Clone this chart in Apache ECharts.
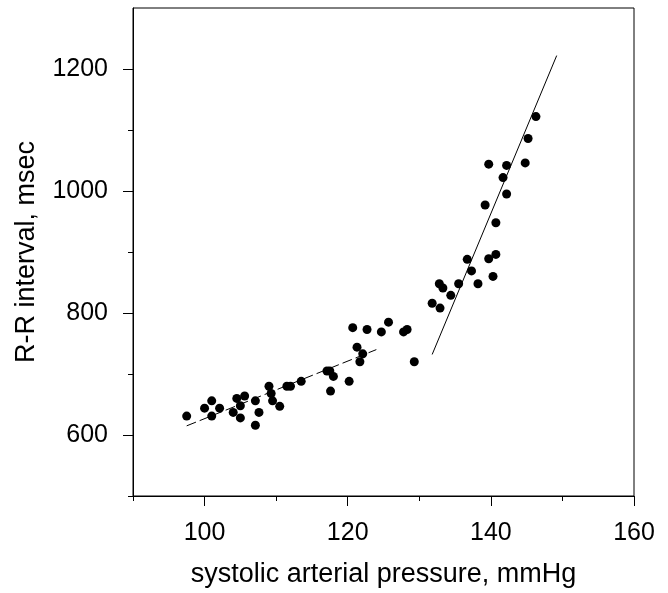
<!DOCTYPE html>
<html>
<head>
<meta charset="utf-8">
<script src="https://cdn.jsdelivr.net/npm/echarts@6/dist/echarts.min.js"></script>
<style>html,body{margin:0;padding:0;background:#fff}#c{width:668px;height:593px}</style>
</head>
<body>
<div id="c"></div>
<script>
const xName = 'systolic arterial pressure, mmHg';
const yName = 'R-R interval, msec';
const xMajorTicks = [100, 120, 140, 160];
const xMinorTicks = [90, 110, 130, 150];
const yMajorTicks = [600, 800, 1000, 1200];
const yMinorTicks = [500, 700, 900, 1100];
const pressure = [97.5,100.0,101.0,101.0,102.1,104.0,104.5,105.6,105.0,105.0,107.1,107.1,107.6,109.0,109.3,109.5,110.5,111.5,112.0,113.5,117.1,117.5,118.0,117.6,120.2,121.3,122.1,121.7,120.7,122.7,124.7,125.7,127.8,128.3,129.3,
131.8,132.9,132.8,133.3,134.4,135.5,136.7,137.3,138.2,139.7,140.7,140.3,140.7,139.2,142.2,141.7,139.7,142.2,144.8,145.2,146.3];
const rrInterval = [631,644,656,631,644,637,660,664,648,628,616,656,637,680,668,656,647,680,680,688,705,705,696,672,688,744,733,720,776,773,769,785,769,773,720,
816,808,848,841,829,848,888,869,848,889,896,860,948,977,995,1022,1044,1042,1046,1086,1122];
const lowFitX = [97.5, 124.0];
const lowFitY = [615, 740];
const highFitX = [131.8, 149.2];
const highFitY = [732, 1222];

const font = 'Liberation Sans, Arial, sans-serif';
const labelTxt = {fontFamily: font, fontSize: 25, color: '#000'};
const nameTxt = {fontFamily: font, fontSize: 27, color: '#000'};
const plain = v => String(v);
const chart = echarts.init(document.getElementById('c'));
chart.setOption({
  animation: false,
  backgroundColor: '#fff',
  grid: {left: 133, right: 34, top: 8, bottom: 94, show: true, borderColor: '#000', borderWidth: 1},
  xAxis: [{
    type: 'value', min: 90, max: 160, position: 'bottom',
    name: xName, nameLocation: 'middle', nameGap: 65,
    nameTextStyle: nameTxt,
    axisLine: {lineStyle: {color: '#000', width: 1}},
    axisTick: {show: true, inside: false, length: 10, customValues: xMajorTicks, lineStyle: {color: '#000'}},
    axisLabel: Object.assign({margin: 25, customValues: xMajorTicks, formatter: plain}, labelTxt),
    splitLine: {show: false}
  }, {
    type: 'value', min: 90, max: 160, position: 'bottom', offset: 0,
    axisLine: {show: false},
    axisTick: {show: true, inside: false, length: 5, customValues: xMinorTicks, lineStyle: {color: '#000'}},
    axisLabel: {show: false},
    splitLine: {show: false}
  }],
  yAxis: [{
    type: 'value', min: 500, max: 1300, position: 'left',
    name: yName, nameLocation: 'middle', nameGap: 93,
    nameTextStyle: nameTxt,
    axisLine: {lineStyle: {color: '#000', width: 1}},
    axisTick: {show: true, inside: false, length: 10, customValues: yMajorTicks, lineStyle: {color: '#000'}},
    axisLabel: Object.assign({margin: 25, customValues: yMajorTicks, formatter: plain}, labelTxt),
    splitLine: {show: false}
  }, {
    type: 'value', min: 500, max: 1300, position: 'left', offset: 0,
    axisLine: {show: false},
    axisTick: {show: true, inside: false, length: 5, customValues: yMinorTicks, lineStyle: {color: '#000'}},
    axisLabel: {show: false},
    splitLine: {show: false}
  }],
  series: [
    {type: 'scatter', symbol: 'circle', symbolSize: 9, itemStyle: {color: '#000', opacity: 1},
     data: pressure.map((x, i) => [x, rrInterval[i]])},
    {type: 'line', symbol: 'none', lineStyle: {color: '#000', width: 1, type: [10, 4]},
     data: lowFitX.map((x, i) => [x, lowFitY[i]])},
    {type: 'line', symbol: 'none', lineStyle: {color: '#000', width: 1},
     data: highFitX.map((x, i) => [x, highFitY[i]])}
  ]
});
</script>
</body>
</html>
